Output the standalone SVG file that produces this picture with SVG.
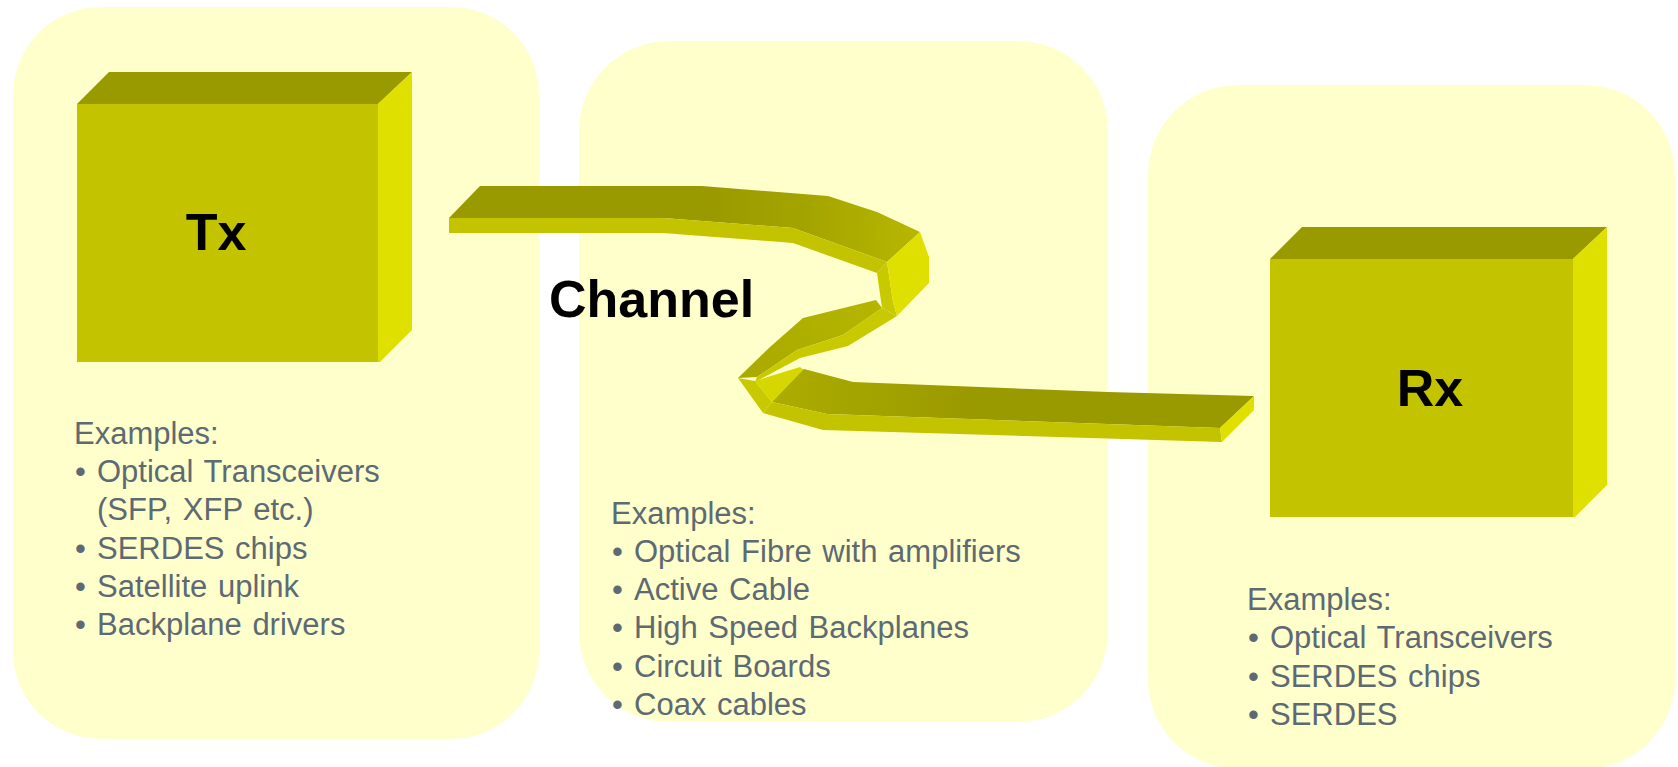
<svg xmlns="http://www.w3.org/2000/svg" width="1678" height="767" viewBox="0 0 1678 767">
  <defs>
    <style>
      .panel { fill: #FFFFCC; }
      .top { fill: #999900; }
      .front { fill: #C3C300; }
      .side { fill: #E0E000; }
      .light { fill: #C9C900; }
      .label { font-family: "Liberation Sans", Arial, sans-serif; font-weight: bold; font-size: 52px; fill: #000000; }
      .list { font-family: "Liberation Sans", Arial, sans-serif; font-size: 31px; fill: #5D6A72; word-spacing: 2px; }
    </style>
    <linearGradient id="gUpperTop" gradientUnits="userSpaceOnUse" x1="700" y1="0" x2="925" y2="0">
      <stop offset="0" stop-color="#999900"/>
      <stop offset="0.45" stop-color="#A3A300"/>
      <stop offset="1" stop-color="#B8B800"/>
    </linearGradient>
    <linearGradient id="gMidTop" gradientUnits="userSpaceOnUse" x1="880" y1="300" x2="740" y2="378">
      <stop offset="0" stop-color="#B5B500"/>
      <stop offset="1" stop-color="#A9A900"/>
    </linearGradient>
    <linearGradient id="gLowerTop" gradientUnits="userSpaceOnUse" x1="780" y1="0" x2="980" y2="0">
      <stop offset="0" stop-color="#ABAB00"/>
      <stop offset="1" stop-color="#999900"/>
    </linearGradient>
  </defs>

  <rect width="1678" height="767" fill="#FFFFFF"/>

  <!-- background panels -->
  <rect id="panel-tx" class="panel" x="13" y="7" width="526" height="732" rx="88" ry="88"/>
  <rect id="panel-channel" class="panel" x="579" y="41" width="529" height="681" rx="90" ry="90"/>
  <rect id="panel-rx" class="panel" x="1148" y="85" width="527" height="684" rx="90" ry="90"/>

  <!-- transmitter block -->
  <g id="node-tx">
    <polygon class="top" points="77,104 109,72 412,72 378,104"/>
    <polygon class="side" points="378,104 412,72 412,330 380,362 378,362"/>
    <rect class="front" x="77" y="104" width="301" height="258"/>
    <text class="label" x="216" y="250" text-anchor="middle">Tx</text>
  </g>

  <!-- receiver block -->
  <g id="node-rx">
    <polygon class="top" points="1270,259 1302,227 1607,227 1573,259"/>
    <polygon class="side" points="1573,259 1607,227 1607,485 1575,517 1573,517"/>
    <rect class="front" x="1270" y="259" width="303" height="258"/>
    <text class="label" x="1430" y="406" text-anchor="middle">Rx</text>
  </g>

  <!-- channel: twisted ribbon cable from Tx to Rx -->
  <g id="connectors">
    <!-- upper run -->
    <polygon fill="url(#gUpperTop)" points="480,186 702,186 828,196 877,212 920,232 887,262 793,228 663,218 449,218"/>
    <polygon class="front" points="449,218 663,218 793,228 887,262 877,273 793,243 663,233 449,233"/>
    <!-- inner wall of the bend -->
    <polygon class="light" points="877,273 887,262 893,302 897,316 882,308"/>
    <!-- outer wall of the bend -->
    <polygon class="side" points="887,262 920,232 929,257 929,283 897,316 893,302"/>
    <!-- diagonal middle run -->
    <polygon fill="url(#gMidTop)" points="876,300 803,318 770,347 738,378 757,377 797,350 843,335 882,308"/>
    <polygon class="light" points="882,308 843,335 797,350 757,377 755,382 800,358 848,346 897,316"/>
    <!-- lower bend -->
    <polygon class="light" points="738,378 755,381 772,402 763,413"/>
    <polygon fill="#D6D600" points="755,381 800,367 804,370 772,402"/>
    <!-- lower run to Rx -->
    <polygon fill="url(#gLowerTop)" points="804,369 853,382 1108,392 1254,396 1220,428 827,414 772,402"/>
    <polygon class="front" points="772,402 827,414 1220,428 1222,442 823,430 763,413"/>
    <polygon class="side" points="1220,428 1254,396 1254,410 1222,442"/>
  </g>

  <text id="label-channel" class="label" x="549" y="317">Channel</text>

  <!-- example lists -->
  <g id="list-tx" class="list">
    <text x="74" y="444">Examples:</text>
    <text x="75" y="482">•</text><text x="97" y="482">Optical Transceivers</text>
    <text x="97" y="520">(SFP, XFP etc.)</text>
    <text x="75" y="559">•</text><text x="97" y="559">SERDES chips</text>
    <text x="75" y="597">•</text><text x="97" y="597">Satellite uplink</text>
    <text x="75" y="635">•</text><text x="97" y="635">Backplane drivers</text>
  </g>

  <g id="list-channel" class="list">
    <text x="611" y="524">Examples:</text>
    <text x="612" y="562">•</text><text x="634" y="562">Optical Fibre with amplifiers</text>
    <text x="612" y="600">•</text><text x="634" y="600">Active Cable</text>
    <text x="612" y="638">•</text><text x="634" y="638">High Speed Backplanes</text>
    <text x="612" y="677">•</text><text x="634" y="677">Circuit Boards</text>
    <text x="612" y="715">•</text><text x="634" y="715">Coax cables</text>
  </g>

  <g id="list-rx" class="list">
    <text x="1247" y="610">Examples:</text>
    <text x="1248" y="648">•</text><text x="1270" y="648">Optical Transceivers</text>
    <text x="1248" y="687">•</text><text x="1270" y="687">SERDES chips</text>
    <text x="1248" y="725">•</text><text x="1270" y="725">SERDES</text>
  </g>
</svg>
